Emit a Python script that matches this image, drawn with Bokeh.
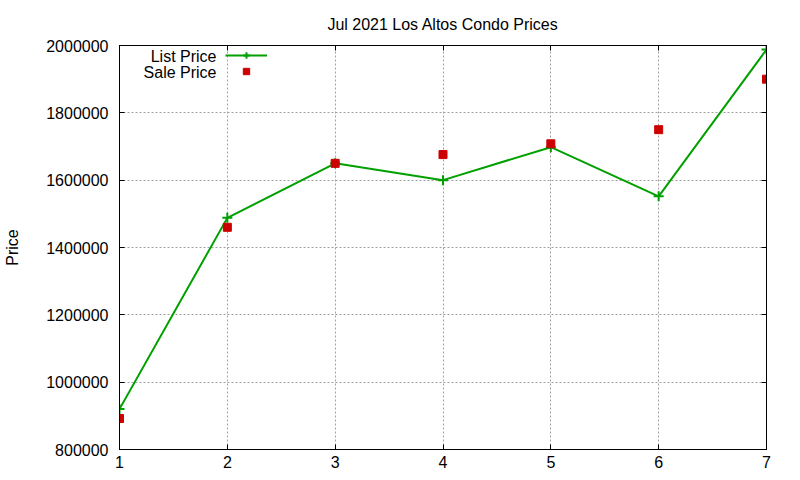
from bokeh.plotting import figure
from bokeh.models import (Range1d, FixedTicker, LinearAxis, BasicTickFormatter,
                          CustomJSTickFormatter, Legend, LegendItem, Label)
from bokeh.embed import file_html
from bokeh.resources import INLINE

# Data
days = [1, 2, 3, 4, 5, 6, 7]
list_price = [920000, 1488000, 1650000, 1600000, 1698000, 1552000, 1988000]
sale_price = [892000, 1460000, 1650000, 1676000, 1708000, 1750000, 1900000]

y_ticks = [800000, 1000000, 1200000, 1400000, 1600000, 1800000, 2000000]

FONT = "Liberation Sans"
GREEN = "#00a000"
RED = "#cc0000"

p = figure(width=800, height=480, output_backend="svg", toolbar_location=None,
           x_range=Range1d(1, 7), y_range=Range1d(800000, 2000000),
           min_border_left=119, min_border_right=34, min_border_top=45,
           min_border_bottom=31, y_axis_label="Price")

p.title.text = "Jul 2021 Los Altos Condo Prices"
p.title.align = "center"
p.title.text_font = FONT
p.title.text_font_size = "16px"
p.title.text_font_style = "normal"
p.title.text_color = "black"
p.title.standoff = 25

p.outline_line_color = "black"
p.background_fill_color = "white"
p.border_fill_color = "white"

# grid
p.grid.grid_line_color = "#a0a0a0"
p.grid.grid_line_dash = "2 2"
p.grid.grid_line_width = 1
p.xaxis.ticker = FixedTicker(ticks=days)
p.yaxis.ticker = FixedTicker(ticks=y_ticks)
p.yaxis.formatter = BasicTickFormatter(use_scientific=False)

for ax in p.axis:
    ax.major_tick_in = 5
    ax.major_tick_out = 0
    ax.minor_tick_line_color = None
    ax.axis_line_color = "black"
    ax.major_tick_line_color = "black"
    ax.major_label_text_font = FONT
    ax.major_label_text_font_size = "16px"
    ax.major_label_text_color = "black"
p.xaxis.major_label_standoff = 6
p.yaxis.major_label_standoff = 11
p.yaxis.axis_label_text_font = FONT
p.yaxis.axis_label_text_font_size = "16px"
p.yaxis.axis_label_text_font_style = "normal"
p.yaxis.axis_label_text_color = "black"
p.yaxis.axis_label_standoff = 22

# mirrored ticks on top and right
blank = CustomJSTickFormatter(code="return ''")
top = LinearAxis(ticker=FixedTicker(ticks=days), formatter=blank)
right = LinearAxis(ticker=FixedTicker(ticks=y_ticks), formatter=blank)
for ax in (top, right):
    ax.major_tick_in = 5
    ax.major_tick_out = 0
    ax.minor_tick_line_color = None
    ax.major_label_standoff = 0
    ax.major_label_text_font_size = "1px"
p.add_layout(top, "above")
p.add_layout(right, "right")

# series
ln = p.line(days, list_price, line_color=GREEN, line_width=2)
cr = p.scatter(days, list_price, marker="cross", size=10, line_color=GREEN, line_width=2)
sq = p.scatter(days, sale_price, marker="square", size=8, fill_color=RED, line_color=RED)

legend = Legend(items=[LegendItem(label=" ", renderers=[ln, cr]),
                       LegendItem(label=" ", renderers=[sq])],
                location=(106, 370), glyph_width=42, glyph_height=16,
                spacing=0, padding=0, margin=0, label_height=16,
                label_standoff=0, background_fill_alpha=0, border_line_alpha=0)
p.add_layout(legend, "center")

for text, yy in (("List Price", 393), ("Sale Price", 377)):
    p.add_layout(Label(x=97, y=yy, x_units="screen", y_units="screen", text=text,
                       text_align="right", text_baseline="middle", text_color="black",
                       text_font=FONT, text_font_size="16px"))

open("out.html", "w").write(file_html(p, INLINE))
